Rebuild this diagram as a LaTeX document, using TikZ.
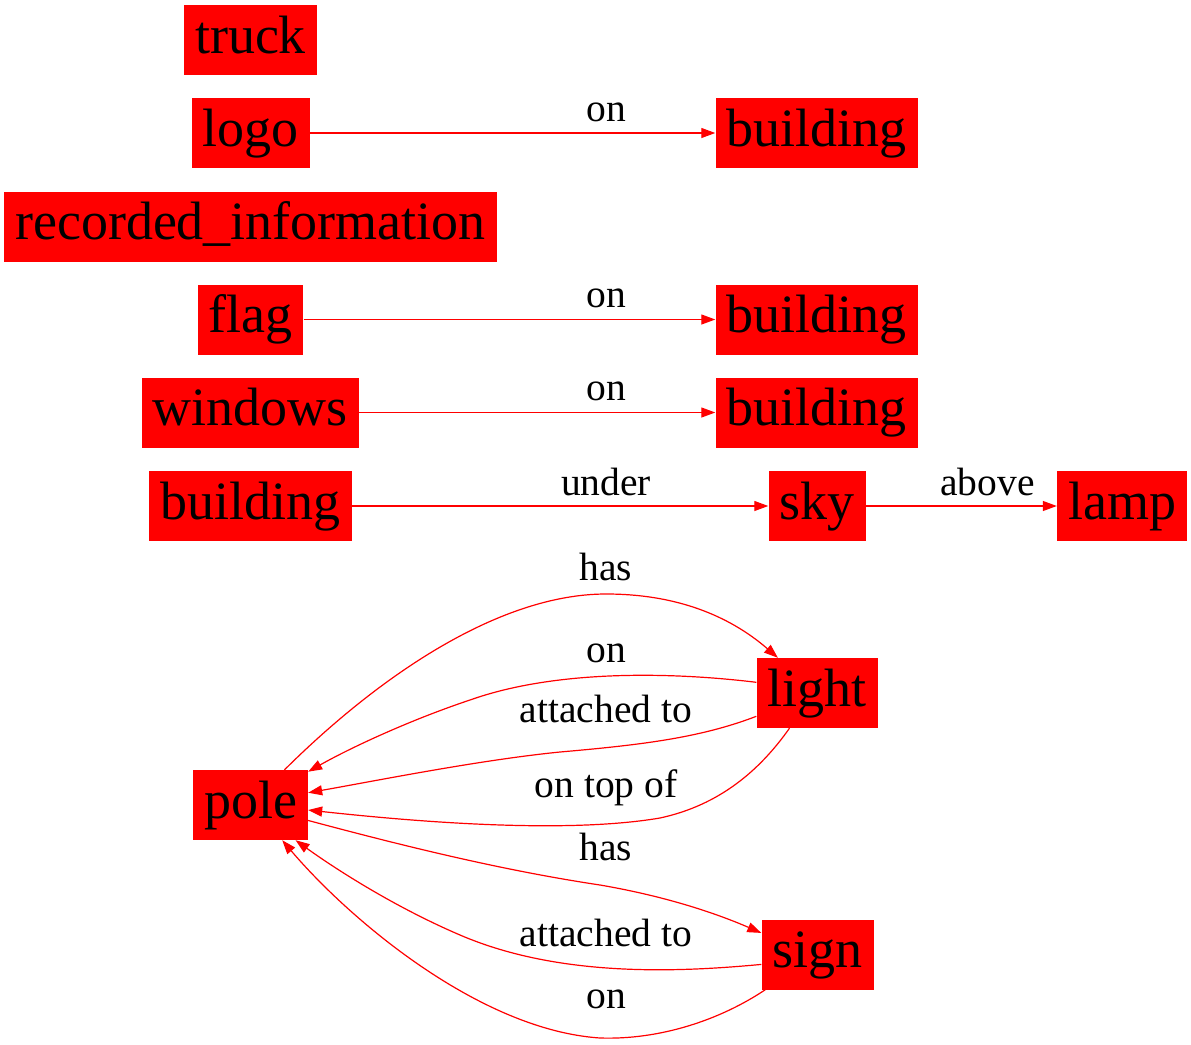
\documentclass[tikz,border=0pt]{standalone}
\usepackage{fontspec}
\setmainfont{Liberation Serif}
\usetikzlibrary{arrows.meta}

\tikzset{
  obj/.style={fill=red, inner xsep=11pt, inner ysep=0pt, minimum height=70pt,
    text height=38pt, text depth=12pt, font=\fontsize{54}{60}\selectfont},
  rel/.style={draw=red, line width=1.2pt, -{Triangle[length=14pt,width=10pt]}, fill=none},
  relab/.style={anchor=base, inner sep=0pt, font=\fontsize{39.5}{44}\selectfont}
}

\begin{document}
\begin{tikzpicture}[x=1pt,y=-1pt] %Grafo de escena
    \useasboundingbox (0,0) rectangle (1191,1044);

    % objetos
    \node[obj] (truck) at (250.5,40) {truck};
    \node[obj] (logo) at (250.5,133) {logo};
    \node[obj] (bldA) at (816.5,133) {building};
    \node[obj] (recinfo) at (250.5,226.5) {recorded\_information};
    \node[obj] (flag) at (250.5,319.5) {flag};
    \node[obj] (bldB) at (816.5,319.5) {building};
    \node[obj] (windows) at (250.5,412.5) {windows};
    \node[obj] (bldC) at (816.5,412.5) {building};
    \node[obj] (bldD) at (250.5,506) {building};
    \node[obj] (sky) at (817,506) {sky};
    \node[obj] (lamp) at (1122,506) {lamp};
    \node[obj] (light) at (817,693) {light};
    \node[obj] (pole) at (250.5,805) {pole};
    \node[obj] (sign) at (817.5,954.5) {sign};

    % relaciones rectas
    \draw[rel] (logo) -- (bldA);
    \draw[rel] (flag) -- (bldB);
    \draw[rel] (windows) -- (bldC);
    \draw[rel] (bldD) -- (sky);
    \draw[rel] (sky) -- (lamp);

    \node[relab] (lonA) at (606,121) {on};
    \node[relab] (lonB) at (606,307.5) {on};
    \node[relab] (lonC) at (606,400.5) {on};
    \node[relab] (lunder) at (606,495) {under};
    \node[relab] (labove) at (987.5,495) {above};

    % relaciones curvas
    \draw[rel] (pole.46) .. controls (380,675) and (500,594) .. (606,594)
        .. controls (690,594) and (740,625) .. (light.138);
    \draw[rel] (light.170) .. controls (680,673) and (560,668) .. (470,700)
        .. controls (410,720) and (350,748) .. (pole.30);
    \draw[rel] (light.201) .. controls (700,738) and (640,745) .. (560,752)
        .. controls (480,760) and (380,780) .. (pole.12);
    \draw[rel] (light.232) .. controls (760,770) and (720,805) .. (660,818)
        .. controls (560,835) and (400,820) .. (pole.-5);
    \draw[rel] (pole.-15) .. controls (400,845) and (500,870) .. (600,885)
        .. controls (670,897) and (720,915) .. (sign.159);
    \draw[rel] (sign.190) .. controls (680,972) and (560,978) .. (460,935)
        .. controls (390,905) and (330,865) .. (pole.-38);
    \draw[rel] (sign.214) .. controls (720,1020) and (660,1040) .. (600,1038)
        .. controls (480,1030) and (350,920) .. (pole.-48);

    \node[relab] (lhasA) at (606,580) {has};
    \node[relab] (lonD) at (606,662) {on};
    \node[relab] (lattA) at (606,722) {attached to};
    \node[relab] (ltop) at (606,797) {on top of};
    \node[relab] (lhasB) at (606,860) {has};
    \node[relab] (lattB) at (606,946) {attached to};
    \node[relab] (lonE) at (606,1008) {on};
\end{tikzpicture}
\end{document}
